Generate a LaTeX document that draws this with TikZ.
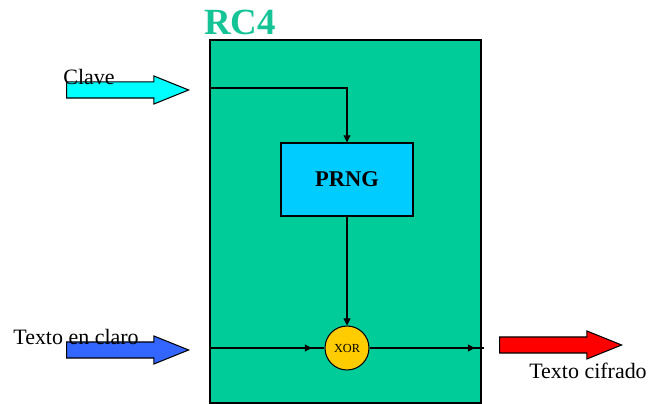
\documentclass[tikz,border=0pt]{standalone}
\usepackage{fontspec}
\setmainfont{Liberation Serif}
\usetikzlibrary{arrows.meta, positioning, shapes.arrows, decorations.markings}
\definecolor{CipherGreen} {RGB}{  0, 204, 153}
\definecolor{TitleGreen}  {RGB}{ 20, 196, 150}
\definecolor{PRNGBlue}    {RGB}{  0, 204, 255}
\definecolor{XORYellow}   {RGB}{255, 204,   0}
\definecolor{KeyCyan}     {RGB}{  0, 255, 255}
\definecolor{PlainBlue}   {RGB}{ 51, 102, 255}
\definecolor{CipherRed}   {RGB}{255,   0,   0}
\tikzset{
  % RC4 body
  cipherbox/.style={
    rectangle, fill=CipherGreen, draw=black, line width=0.9pt,
    minimum width=5.42cm, minimum height=7.26cm, inner sep=0pt
  },
  % Title above the body
  title/.style={
    font=\fontsize{21}{24}\selectfont\bfseries, text=TitleGreen
  },
  % PRNG block
  prngbox/.style={
    rectangle, fill=PRNGBlue, draw=black, line width=0.8pt,
    minimum width=2.64cm, minimum height=1.46cm,
    font=\fontsize{12.8}{15}\selectfont\bfseries
  },
  % XOR circle
  xorgate/.style={
    circle, fill=XORYellow, draw=black, line width=0.6pt,
    minimum size=0.88cm, inner sep=0pt,
    font=\fontsize{7}{8}\selectfont
  },
  % Block arrows (in / out)
  blockarrow/.style={
    single arrow, draw=black, line width=0.6pt,
    inner sep=0.15cm, single arrow head extend=0.12cm,
    single arrow tip angle=44, minimum height=2.44cm,
    minimum width=0.54cm
  },
  % Plain labels
  lbl/.style={font=\fontsize{12.5}{15}\selectfont, inner sep=0pt},
  % Inner signal lines
  flow/.style={line width=0.6pt, -{Triangle[length=4pt, width=4pt]}},
  wire/.style={line width=0.6pt},
  midtip/.style={
    postaction={decorate},
    decoration={markings,
      mark=at position #1 with {\arrow{Triangle[length=4pt, width=4pt]}}}
  }
}

\begin{document}
\begin{tikzpicture}[x=0.02cm, y=-0.02cm]
  \useasboundingbox (0,0) rectangle (648,404);

  % ── RC4 body and title ──────────────────────────────────────
  \node[cipherbox, anchor=north west] (rc4) at (209,39) {};
  \node[title] (rc4_title) at (240,22) {RC4};

  % ── Inner blocks ────────────────────────────────────────────
  \node[prngbox] (prng) at (347,179.5) {PRNG};
  \node[xorgate] (xor) at (347,348) {XOR};

  % ── Block arrows ────────────────────────────────────────────
  \node[blockarrow, fill=KeyCyan, anchor=tip] (clave) at (190,90) {};
  \node[blockarrow, fill=PlainBlue, anchor=tip] (claro) at (190,350) {};
  \node[blockarrow, fill=CipherRed, anchor=tip] (cifrado) at (623,345) {};

  % ── Labels ──────────────────────────────────────────────────
  \node[lbl] (clave_lbl) at (89,77) {Clave};
  \node[lbl] (claro_lbl) at (76,337) {Texto en claro};
  \node[lbl] (cifrado_lbl) at (588,371) {Texto cifrado};

  % ── Signal lines ────────────────────────────────────────────
  \coordinate (key_in) at (rc4.west |- 0,88);
  \coordinate (txt_in) at (rc4.west |- xor);
  \coordinate (txt_out) at (484,348);

  \draw[flow] (key_in) -| (prng.north);
  \draw[flow] (prng.south) -- (xor.north);
  \draw[wire, midtip=0.89] (txt_in) -- (xor.west);
  \draw[wire, midtip=0.92] (xor.east) -- (txt_out);

\end{tikzpicture}
\end{document}
